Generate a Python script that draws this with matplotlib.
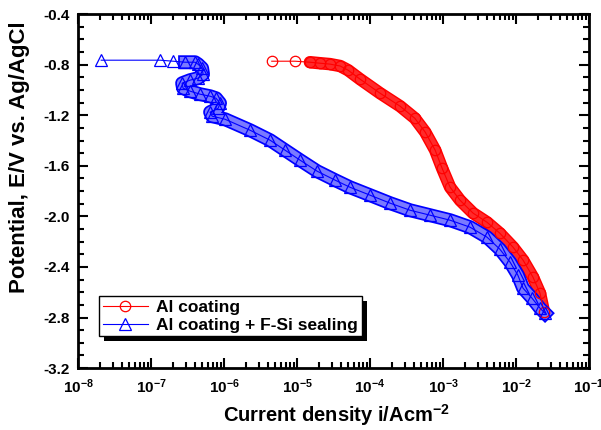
import matplotlib
matplotlib.use("Agg")
import matplotlib.pyplot as plt
import matplotlib.patheffects as pe
from matplotlib.patches import Rectangle
from matplotlib.ticker import LogLocator, MultipleLocator, NullFormatter, FormatStrFormatter

plt.rcParams['font.family'] = 'Liberation Sans'
plt.rcParams['font.weight'] = 'bold'
plt.rcParams['mathtext.fontset'] = 'custom'
plt.rcParams['mathtext.rm'] = 'Liberation Sans:bold'
plt.rcParams['mathtext.bf'] = 'Liberation Sans:bold'

# Al coating
al_i = [4.5e-6, 9.4e-6, 1.5e-5, 2.07e-5, 2.83e-5, 3.9e-5, 5.0e-5, 7.3e-5, 1.37e-4,
        2.58e-4, 4.1e-4, 5.7e-4, 7.8e-4, 9.7e-4, 1.25e-3, 1.71e-3, 2.58e-3, 4.0e-3,
        6.0e-3, 9.1e-3, 1.25e-2, 1.71e-2, 2.13e-2, 2.42e-2]
al_e = [-0.772, -0.772, -0.78, -0.788, -0.795, -0.81, -0.843, -0.914, -1.025,
        -1.128, -1.223, -1.333, -1.476, -1.618, -1.769, -1.872, -1.974, -2.046,
        -2.133, -2.243, -2.346, -2.481, -2.607, -2.757]

# Al coating + F-Si sealing
fsi_i = [2.07e-8, 1.33e-7, 2.0e-7, 2.92e-7, 4.0e-7, 4.4e-7, 5.0e-7, 5.15e-7, 4.4e-7,
         3.42e-7, 2.66e-7, 2.74e-7, 3.42e-7, 4.69e-7, 6.43e-7, 7.76e-7, 8.8e-7, 8.3e-7,
         6.43e-7, 6.85e-7, 1.03e-6, 2.27e-6, 4.27e-6, 6.85e-6, 1.1e-5, 1.88e-5, 3.32e-5,
         5.3e-5, 1.0e-4, 1.88e-4, 3.53e-4, 6.6e-4, 1.25e-3, 2.34e-3, 4.0e-3, 6.0e-3,
         8.3e-3, 1.06e-2, 1.25e-2, 1.66e-2, 2.13e-2, 2.5e-2]
fsi_e = [-0.764, -0.764, -0.772, -0.78, -0.78, -0.796, -0.827, -0.875, -0.906,
         -0.922, -0.946, -0.985, -1.009, -1.033, -1.049, -1.065, -1.104, -1.144,
         -1.175, -1.207, -1.231, -1.318, -1.397, -1.476, -1.555, -1.642, -1.713,
         -1.769, -1.832, -1.895, -1.951, -1.99, -2.03, -2.085, -2.164, -2.259,
         -2.362, -2.465, -2.568, -2.647, -2.726, -2.766]

fig = plt.figure(figsize=(6.01, 4.30), dpi=100)
ax = fig.add_axes([0.13, 0.144, 0.85, 0.823])

# dense marker bands (the measured points overlap into a thick band)
ax.plot(al_i[2:], al_e[2:], color='red', lw=8, solid_capstyle='round',
        path_effects=[pe.Stroke(linewidth=9, foreground='red'),
                      pe.Stroke(linewidth=7, foreground='#ff2a2a')])
ax.plot(fsi_i[3:], fsi_e[3:], color='blue', lw=8,
        path_effects=[pe.Stroke(linewidth=10, foreground='blue'),
                      pe.Stroke(linewidth=7.5, foreground='#7a7aff')])

ax.plot(al_i, al_e, color='red', lw=0.8, marker='o', ms=7.5, mfc='none',
        mec='red', mew=0.9, label='Al coating')
ax.plot(fsi_i, fsi_e, color='blue', lw=0.8, marker='^', ms=8.5, mfc='none',
        mec='blue', mew=0.9, label='Al coating + F-Si sealing')

ax.set_xscale('log')
ax.set_xlim(1e-8, 1e-1)
ax.set_ylim(-3.2, -0.4)
ax.yaxis.set_major_locator(MultipleLocator(0.4))
ax.yaxis.set_minor_locator(MultipleLocator(0.1))
ax.yaxis.set_major_formatter(FormatStrFormatter('%.1f'))
ax.xaxis.set_major_locator(LogLocator(base=10, numticks=10))
ax.xaxis.set_minor_locator(LogLocator(base=10, subs=range(2, 10), numticks=20))
ax.xaxis.set_minor_formatter(NullFormatter())

ax.tick_params(which='both', direction='in', top=True, right=True, width=1.5)
ax.tick_params(axis='y', labelsize=11, pad=6)
ax.tick_params(axis='x', labelsize=11, pad=7)
ax.tick_params(which='major', length=7)
ax.tick_params(which='minor', length=4)
for s in ax.spines.values():
    s.set_linewidth(2)

ax.set_xlabel(r'Current density i/Acm$^{-2}$', fontsize=14.5, fontweight='bold')
ax.xaxis.set_label_coords(0.505, -0.097)
ax.set_ylabel('Potential, E/V vs. Ag/AgCl', fontsize=16, fontweight='bold')
ax.yaxis.set_label_coords(-0.094, 0.595)

leg = ax.legend(loc='lower left', bbox_to_anchor=(0.041, 0.09), borderaxespad=0,
                fontsize=12.5, handlelength=2.6, fancybox=False, framealpha=1,
                edgecolor='black', borderpad=0.2, labelspacing=0.15,
                handletextpad=0.5)
leg.get_frame().set_linewidth(1.0)

# offset black shadow behind the legend box
fig.canvas.draw()
bb = leg.get_window_extent().transformed(ax.transAxes.inverted())
ax.add_patch(Rectangle((bb.x0 + 5 / 511, bb.y0 - 5 / 354), bb.width, bb.height,
                       transform=ax.transAxes, facecolor='black', edgecolor='none',
                       zorder=4.9))

fig.savefig('out.png', dpi=100)
